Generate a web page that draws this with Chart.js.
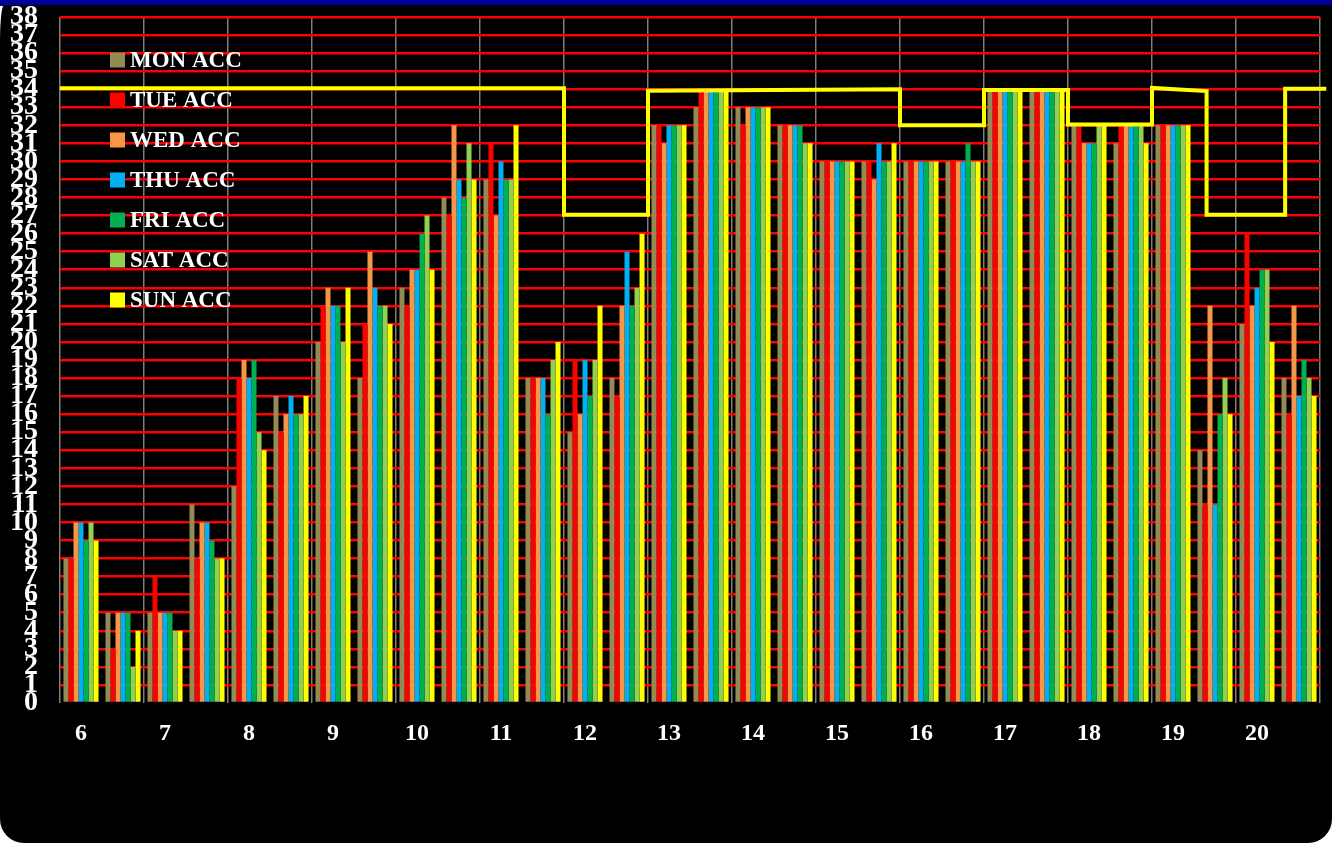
<!DOCTYPE html>
<html>
<head>
<meta charset="utf-8">
<title>ACC by time of day</title>
<script src="https://cdn.jsdelivr.net/npm/chart.js@4.4.1/dist/chart.umd.min.js"></script>
<style>
  body { margin: 0; background: #fff; }
  #wrap { position: relative; width: 1332px; height: 843px; overflow: hidden; }
  #topbar { position: absolute; left: 0; top: 0; width: 1332px; height: 6px; background: #000099; }
  #panel { position: absolute; left: 0; top: 5px; width: 1332px; height: 838px; background: #000;
           border-radius: 4px 0 24px 24px / 36px 0 24px 24px; }
  #chart { position: absolute; left: 0; top: 0; }
</style>
</head>
<body>
<div id="wrap">
  <div id="topbar"></div>
  <div id="panel"></div>
  <canvas id="chart" width="1332" height="843"></canvas>
</div>
<script>
/* ==========================================
   ACC per half hour, Mon–Sun + capacity line
   ========================================== */

const hourLabels = ['6', '7', '8', '9', '10', '11', '12', '13', '14', '15', '16', '17', '18', '19', '20'];
const categories = hourLabels.flatMap(h => [h + ':00', h + ':30']);

const mon = [8, 5, 5, 11, 12, 17, 20, 18, 23, 28, 29, 18, 15, 18, 32, 33, 33, 32, 30, 30, 30, 30, 34, 34, 32, 31, 32, 14, 21, 18];
const tue = [8, 3, 7, 8, 18, 15, 22, 21, 22, 27, 31, 18, 19, 17, 32, 34, 32, 32, 30, 30, 30, 30, 34, 34, 32, 32, 32, 11, 26, 16];
const wed = [10, 5, 5, 10, 19, 16, 23, 25, 24, 32, 27, 18, 16, 22, 31, 34, 33, 32, 30, 29, 30, 30, 34, 34, 31, 32, 32, 22, 22, 22];
const thu = [10, 5, 5, 10, 18, 17, 22, 23, 24, 29, 30, 18, 19, 25, 32, 34, 33, 32, 30, 31, 30, 30, 34, 34, 31, 32, 32, 11, 23, 17];
const fri = [9, 5, 5, 9, 19, 16, 22, 22, 26, 28, 29, 16, 17, 22, 32, 34, 33, 32, 30, 30, 30, 31, 34, 34, 31, 32, 32, 16, 24, 19];
const sat = [10, 2, 4, 8, 15, 16, 20, 22, 27, 31, 29, 19, 19, 23, 32, 34, 33, 31, 30, 30, 30, 30, 34, 34, 32, 32, 32, 18, 24, 18];
const sun = [9, 4, 4, 8, 14, 17, 23, 21, 24, 29, 32, 20, 22, 26, 32, 34, 33, 31, 30, 31, 30, 30, 34, 34, 32, 31, 32, 16, 20, 17];

// capacity line, x in half-hour slots from the 6:00 edge
const capX = [0, 12, 12, 14, 14, 20, 20, 22, 22, 24, 24, 26, 26, 27.3, 27.3, 29.17, 29.17, 30.15];
const capY = [34.05, 34.05, 27.05, 27.05, 33.92, 34, 32, 32, 33.96, 33.96, 32.05, 32.05, 34.07, 33.9, 27.05, 27.05, 34.02, 34.02];

const SERIES = [
  { label: 'MON ACC', data: mon, color: '#948A54' },
  { label: 'TUE ACC', data: tue, color: '#FF0000' },
  { label: 'WED ACC', data: wed, color: '#F79646' },
  { label: 'THU ACC', data: thu, color: '#00B0F0' },
  { label: 'FRI ACC', data: fri, color: '#00B050' },
  { label: 'SAT ACC', data: sat, color: '#92D050' },
  { label: 'SUN ACC', data: sun, color: '#FFFF00' }
];

const SERIF = '"Liberation Serif", "Times New Roman", serif';

// legend sits inside the plot, top-left
const insideLegend = {
  id: 'insideLegend',
  afterDraw(chart) {
    const ctx = chart.ctx;
    ctx.save();
    ctx.font = 'bold 23px ' + SERIF;
    ctx.textBaseline = 'middle';
    chart.data.datasets.filter(d => d.type === 'bar').forEach((d, i) => {
      const y = 60 + i * 40;
      ctx.fillStyle = d.backgroundColor;
      ctx.fillRect(110, y - 7.5, 15, 15);
      ctx.fillStyle = '#FFFFFF';
      ctx.fillText(d.label, 130, y + 1);
    });
    ctx.restore();
  }
};

// slot i sits in the middle of [i, i+1] on a linear x axis,
// so the capacity line can share the same axis
const datasets = SERIES.map(s => ({
  type: 'bar',
  label: s.label,
  data: s.data.map((v, i) => ({ x: i + 0.5, y: v })),
  backgroundColor: s.color,
  borderWidth: 0,
  categoryPercentage: 0.835,
  barPercentage: 1.0,
  order: 1,
}));

datasets.push({
  type: 'line',
  label: 'capacity',
  data: capX.map((x, i) => ({ x, y: capY[i] })),
  borderColor: '#FFFF00',
  borderWidth: 4,
  borderJoinStyle: 'miter',
  pointRadius: 0,
  tension: 0,
  fill: false,
  clip: false,
  order: 0,
});

new Chart(document.getElementById('chart'), {
  data: { datasets },
  options: {
    responsive: false,
    animation: false,
    layout: { padding: { left: 0, right: 12, top: 0, bottom: 0 } },
    plugins: {
      legend: { display: false },
      tooltip: { enabled: false }
    },
    scales: {
      x: {
        type: 'linear',
        min: 0,
        max: categories.length,
        offset: false,
        grid: {
          offset: false,
          drawTicks: false,
          lineWidth: 1.5,
          color: ctx => ctx.tick && ctx.tick.value % 2 === 0 ? '#7F7F7F' : 'rgba(0,0,0,0)'
        },
        border: { display: false },
        ticks: {
          stepSize: 1,
          autoSkip: false,
          maxRotation: 0,
          padding: 16,
          labelOffset: 21,
          color: '#FFFFFF',
          font: { family: SERIF, size: 24, weight: 'bold' },
          callback: v => (v % 2 === 0 && v < categories.length) ? hourLabels[v / 2] : ''
        },
        afterFit: scale => {
          scale.height = 140;
          scale.paddingRight = 0;
        }
      },
      y: {
        min: 0,
        max: 38,
        grid: {
          color: ctx => ctx.tick && ctx.tick.value === 0 ? 'rgba(0,0,0,0)' : '#FF0000',
          lineWidth: 2.5,
          drawTicks: false
        },
        border: { display: false },
        ticks: {
          stepSize: 1,
          autoSkip: false,
          padding: 22,
          color: '#FFFFFF',
          font: { family: SERIF, size: 28, weight: 'bold' }
        },
        afterFit: scale => {
          scale.width = 60;
          scale.paddingTop = 17;
          scale.paddingBottom = 0;
        }
      }
    }
  },
  plugins: [insideLegend]
});
</script>
</body>
</html>
